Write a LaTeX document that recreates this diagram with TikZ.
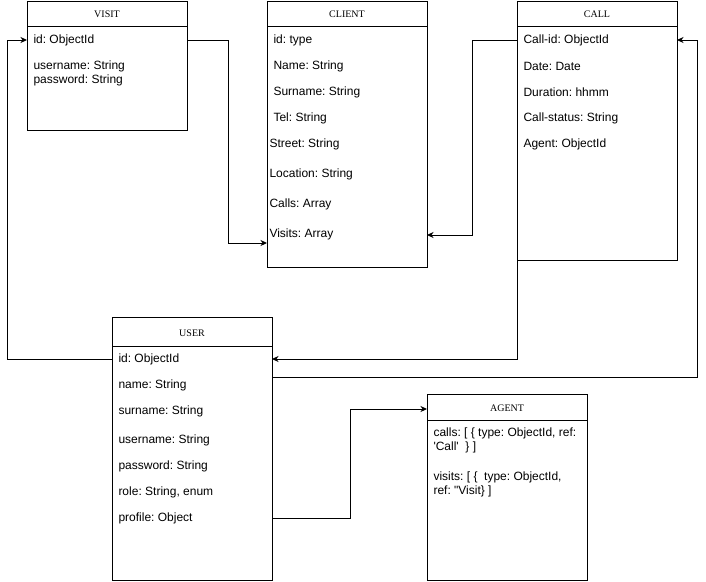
\documentclass[tikz,border=0pt]{standalone}
\usepackage{fontspec}
\setmainfont{Liberation Sans}[Ligatures=TeXOff]
\newfontfamily\titlefont{Liberation Serif}
\usetikzlibrary{arrows.meta}
\frenchspacing
\begin{document}
\frenchspacing
\begin{tikzpicture}[x=1pt,y=-1pt,line width=1pt,
  box/.style={draw, rectangle, anchor=north west, minimum width=160pt, inner sep=0pt, outer sep=0pt},
  ttl/.style={inner sep=0pt, font=\titlefont\fontsize{10}{12}\selectfont},
  fld/.style={anchor=west, inner sep=0pt, yshift=-0.7pt, align=left, font=\fontsize{12}{14}\selectfont},
  arr/.style={-{Stealth[length=6.5pt,width=6pt,inset=2pt]}}]
\useasboundingbox (0,0) rectangle (706,581);
% VISIT
\node[box, minimum height=129pt] (visit) at (27,1) {};
\draw (27,26) -- (187,26);
\node[ttl] (visitT) at (107,14) {VISIT};
\node[fld] (v1) at (33,40) {id: ObjectId};
\node[fld] (v2) at (33,73) {username: String\\password: String};
% CLIENT
\node[box, minimum height=266pt] (client) at (267,1) {};
\draw (267,26) -- (427,26);
\node[ttl] (clientT) at (347,14) {CLIENT};
\node[fld] (k1) at (273,40) {id: type};
\node[fld] (k2) at (273,66) {Name: String};
\node[fld] (k3) at (273,92) {Surname: String};
\node[fld] (k4) at (273,118) {Tel: String};
\node[fld] (k5) at (269,144) {Street: String};
\node[fld] (k6) at (269,174) {Location: String};
\node[fld] (k7) at (269,204) {Calls: Array};
\node[fld] (k8) at (269,234) {Visits: Array};
% CALL
\node[box, minimum height=259pt] (call) at (517,1) {};
\draw (517,26) -- (677,26);
\node[ttl] (callT) at (597,14) {CALL};
\node[fld] (c1) at (523,40) {Call-id: ObjectId};
\node[fld] (c2) at (523,66) {Date: Date};
\node[fld] (c3) at (523,92) {Duration: hhmm};
\node[fld] (c4) at (523,118) {Call-status: String};
\node[fld] (c5) at (523,144) {Agent: ObjectId};
% USER
\node[box, minimum height=263pt] (user) at (112,317) {};
\draw (112,346) -- (272,346);
\node[ttl] (userT) at (192,333) {USER};
\node[fld] (u1) at (118,359) {id: ObjectId};
\node[fld] (u2) at (118,385) {name: String};
\node[fld] (u3) at (118,411) {surname: String};
\node[fld] (u4) at (118,440) {username: String};
\node[fld] (u5) at (118,466) {password: String};
\node[fld] (u6) at (118,492) {role: String, enum};
\node[fld] (u7) at (118,518) {profile: Object};
% AGENT
\node[box, minimum height=186pt] (agent) at (427,394) {};
\draw (427,420) -- (587,420);
\node[ttl] (agentT) at (507,408) {AGENT};
\node[fld] (a1) at (433,440) {calls: [ \{ type: ObjectId, ref:\\'Call'\ \ \} ]};
\node[fld] (a2) at (433,484) {visits: [ \{\ \ type: ObjectId,\\ref: "Visit\} ]};
% connectors
\draw[arr] (visit.east |- 0,40) -- (228,40) |- (client.west |- 0,243);
\draw[arr] (call.west |- 0,40) -- (472,40) |- (client.east |- 0,235);
\draw[arr] (user.west |- 0,359) -- (7,359) |- (visit.west |- 0,40);
\draw[arr] (call.south west) -- (517,359) -- (user.east |- 0,359);
\draw[arr] (user.east |- 0,377) -- (697,377) |- (call.east |- 0,40);
\draw[arr] (user.east |- 0,518) -- (350,518) |- (agent.west |- 0,409);
\end{tikzpicture}
\end{document}
